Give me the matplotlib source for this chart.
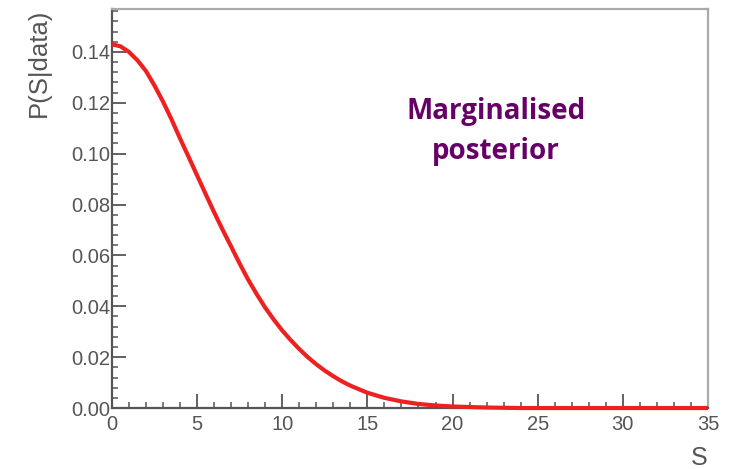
import numpy as np
import matplotlib.pyplot as plt
from matplotlib.ticker import MultipleLocator, FormatStrFormatter

# marginalised posterior for the signal S
s_vals = [0, 0.5, 1, 1.5, 2, 2.5, 3, 3.5, 4, 4.5, 5, 5.5, 6, 6.5, 7, 7.5,
          8, 8.5, 9, 9.5, 10, 10.5, 11, 11.5, 12, 12.5, 13, 13.5, 14, 15,
          16, 17, 18, 19, 20, 21, 22, 23, 24, 26, 28, 30, 32, 35]
p_vals = [0.1430, 0.1422, 0.1400, 0.1367, 0.1325, 0.1268, 0.1205, 0.1135,
          0.1060, 0.0988, 0.0915, 0.0842, 0.0770, 0.0701, 0.0635, 0.0568,
          0.0505, 0.0448, 0.0395, 0.0348, 0.0305, 0.0267, 0.0232, 0.0200,
          0.0172, 0.0147, 0.0125, 0.0105, 0.0088, 0.0060, 0.0040, 0.0026,
          0.0016, 0.0010, 0.0006, 0.0004, 0.0002, 0.0001, 0.0, 0.0, 0.0,
          0.0, 0.0, 0.0]

x_label = 'S'
y_label = 'P(S|data)'
note = 'Marginalised\nposterior'

plt.rcParams['font.family'] = ['Liberation Sans', 'DejaVu Sans']

fig = plt.figure(figsize=(7.36, 4.69), dpi=100)
ax = fig.add_axes([0.152, 0.130, 0.810, 0.851])

ax.plot(s_vals, p_vals, color='#ee2020', lw=3.0, solid_capstyle='butt',
        clip_on=False, zorder=5)

ax.set_xlim(0, 35)
ax.set_ylim(0, 0.1569)

grey = '#555555'
for side in ['left', 'bottom']:
    ax.spines[side].set_color(grey)
    ax.spines[side].set_linewidth(1.6)
for side in ['top', 'right']:
    ax.spines[side].set_color('#aaaaaa')
    ax.spines[side].set_linewidth(1.6)

ax.xaxis.set_major_locator(MultipleLocator(5))
ax.xaxis.set_minor_locator(MultipleLocator(1))
ax.yaxis.set_major_locator(MultipleLocator(0.02))
ax.yaxis.set_minor_locator(MultipleLocator(0.004))
ax.yaxis.set_major_formatter(FormatStrFormatter('%.2f'))

ax.tick_params(which='both', direction='in', colors=grey, top=False, right=False,
               labelsize=14.5, labelcolor=grey)
ax.tick_params(which='major', length=10, width=1.3)
ax.tick_params(which='minor', length=4.5, width=1.1)
ax.tick_params(axis='x', pad=5)
ax.tick_params(axis='y', pad=1)

ax.set_xlabel(x_label, loc='right', fontsize=18, color=grey, labelpad=9)
ax.set_ylabel(y_label, loc='top', fontsize=18.5, color=grey, labelpad=15)

ax.text(0.644, 0.694, note, transform=ax.transAxes, ha='center', va='center',
        fontsize=20, fontweight='bold', color='#660066', linespacing=1.5,
        family=['Open Sans', 'DejaVu Sans'])

fig.savefig('out.png', dpi=100)
